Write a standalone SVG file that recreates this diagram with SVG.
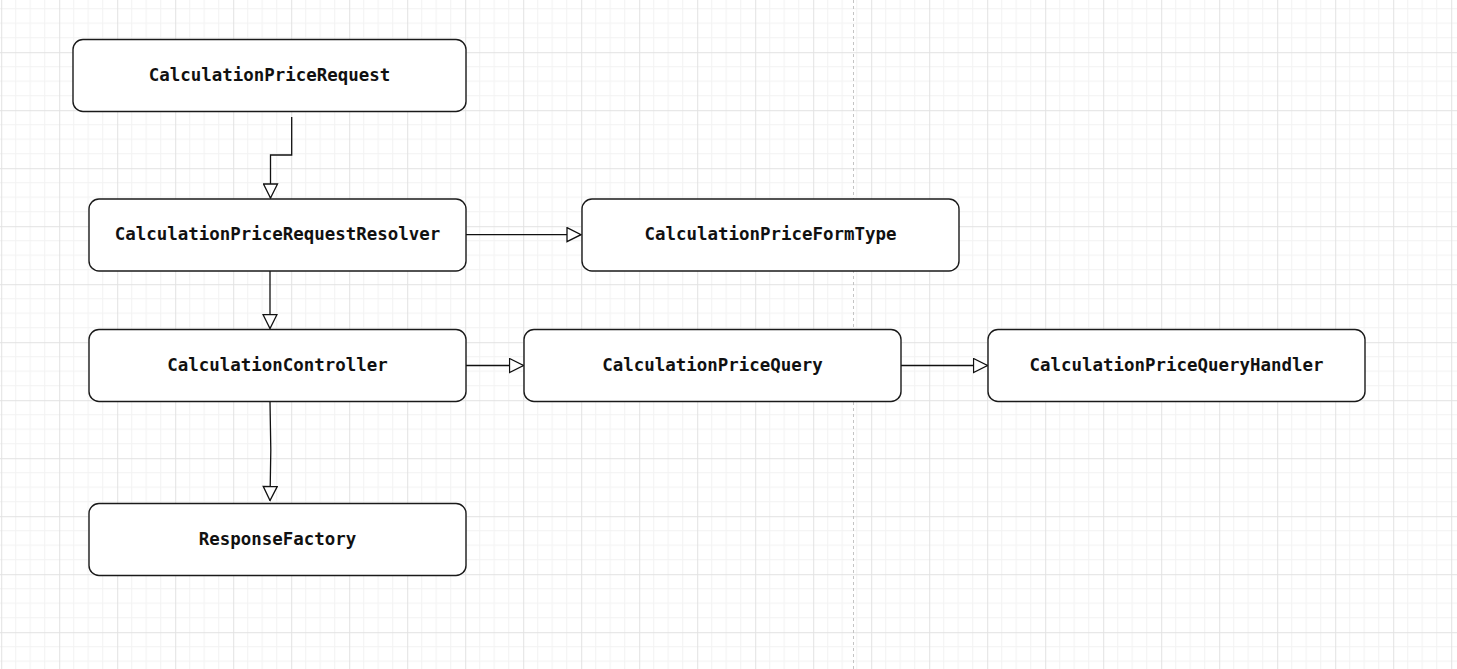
<svg xmlns="http://www.w3.org/2000/svg" width="1457" height="669" viewBox="0 0 1457 669">
  <style>
    .node rect { fill: #ffffff; stroke: #1a1a1a; stroke-width: 1.4; }
    .node text { font-family: "DejaVu Sans Mono", "Liberation Mono", monospace; font-weight: bold; font-size: 17.45px; fill: #111111; text-anchor: middle; dominant-baseline: central; }
    .edge { fill: none; stroke: #111111; stroke-width: 1.3; }
  </style>
  <defs>
    <pattern id="grid" patternUnits="userSpaceOnUse" x="1.2" y="-5.8" width="58" height="58">
      <path d="M14.5 0V58M29 0V58M43.5 0V58M0 14.5H58M0 29H58M0 43.5H58" stroke="#f2f2f2" stroke-width="1" fill="none"/>
      <path d="M0.5 0V58M0 0.5H58" stroke="#e2e2e2" stroke-width="1" fill="none"/>
    </pattern>
    <marker id="hollow" markerUnits="userSpaceOnUse" markerWidth="16" markerHeight="16" viewBox="-1 -1 16 16" refX="14" refY="7" orient="auto">
      <path d="M0 0L14 7L0 14Z" fill="#ffffff" stroke="#111111" stroke-width="1.3"/>
    </marker>
  </defs>

  <!-- canvas background with grid and page break -->
  <rect width="1457" height="669" fill="#ffffff"/>
  <rect width="1457" height="669" fill="url(#grid)"/>
  <line x1="853.5" y1="0" x2="853.5" y2="669" stroke="#c4c4c4" stroke-width="1" stroke-dasharray="3 3"/>

  <!-- connectors -->
  <g id="connectors">
    <path class="edge" d="M291.7 117V155H270.5V198" marker-end="url(#hollow)"/>
    <path class="edge" d="M466 234.7H581" marker-end="url(#hollow)"/>
    <path class="edge" d="M270 271V328.5" marker-end="url(#hollow)"/>
    <path class="edge" d="M466 365.5H523.5" marker-end="url(#hollow)"/>
    <path class="edge" d="M901 365.5H987.5" marker-end="url(#hollow)"/>
    <path class="edge" d="M270 401.5L270.8 450L270 500.5" marker-end="url(#hollow)"/>
  </g>

  <!-- nodes -->
  <g id="node-request" class="node">
    <rect x="73" y="39.5" width="393" height="72" rx="10" ry="10"/>
    <text x="269.5" y="75">CalculationPriceRequest</text>
  </g>
  <g id="node-resolver" class="node">
    <rect x="89" y="199" width="377" height="72" rx="10" ry="10"/>
    <text x="277.5" y="234">CalculationPriceRequestResolver</text>
  </g>
  <g id="node-formtype" class="node">
    <rect x="582" y="199" width="377" height="72" rx="10" ry="10"/>
    <text x="770.5" y="234">CalculationPriceFormType</text>
  </g>
  <g id="node-controller" class="node">
    <rect x="89" y="329.5" width="377" height="72" rx="10" ry="10"/>
    <text x="277.5" y="365">CalculationController</text>
  </g>
  <g id="node-query" class="node">
    <rect x="524" y="329.5" width="377" height="72" rx="10" ry="10"/>
    <text x="712.5" y="365">CalculationPriceQuery</text>
  </g>
  <g id="node-handler" class="node">
    <rect x="988" y="329.5" width="377" height="72" rx="10" ry="10"/>
    <text x="1176.5" y="365">CalculationPriceQueryHandler</text>
  </g>
  <g id="node-response" class="node">
    <rect x="89" y="503.5" width="377" height="72" rx="10" ry="10"/>
    <text x="277.5" y="539">ResponseFactory</text>
  </g>
</svg>
